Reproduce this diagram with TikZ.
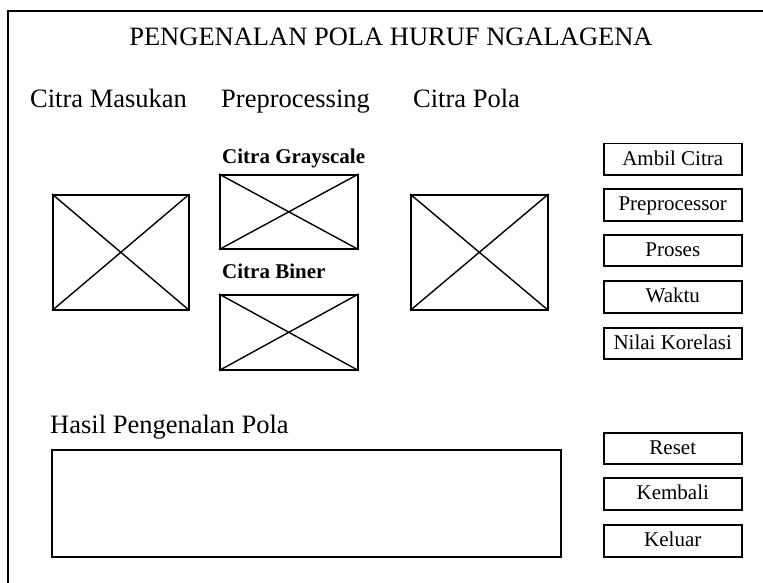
\documentclass[tikz,border=0pt]{standalone}
\usepackage{fontspec}
\setmainfont{Liberation Serif}
\begin{document}
\begin{tikzpicture}[x=1pt,y=-1pt,
  frame/.style={draw,line width=1.7pt},
  imgbox/.style={draw,line width=1.6pt,inner sep=0pt,anchor=north west},
  cross/.style={line width=1.4pt},
  btn/.style={draw,line width=1.5pt,inner sep=0pt,anchor=north west,minimum width=138pt,minimum height=31pt,text height=15pt,text depth=3pt,font=\fontsize{21}{23}\selectfont},
  lbl/.style={inner sep=0pt,anchor=base west,font=\fontsize{26.5}{28}\selectfont},
  sublbl/.style={inner sep=0pt,anchor=base west,font=\bfseries\fontsize{21}{23}\selectfont}]
\useasboundingbox (0,0) rectangle (763,583);
% outer frame (cut off at right and bottom)
\coordinate (fr1) at (763,11);
\coordinate (fr2) at (8,11);
\coordinate (fr3) at (8,583);
\draw[frame] (fr1) -- (fr2) -- (fr3);

% texts
\node[inner sep=0pt,anchor=base,font=\fontsize{26.5}{28}\selectfont] (title) at (391,46) {PENGENALAN POLA HURUF NGALAGENA};
\node[lbl] (tmasuk) at (30,108) {Citra Masukan};
\node[lbl] (tpre) at (221,108) {Preprocessing};
\node[lbl] (tpola) at (413,108) {Citra Pola};
\node[lbl] (thasil) at (50,433) {Hasil Pengenalan Pola};
\node[sublbl] (tgray) at (222,164) {Citra Grayscale};
\node[sublbl] (tbiner) at (222,278) {Citra Biner};

% image placeholders
\node[imgbox,minimum width=136pt,minimum height=115pt] (masuk) at (52,194) {};
\node[imgbox,minimum width=137pt,minimum height=115pt] (pola) at (410,194) {};
\node[imgbox,minimum width=138pt,minimum height=74pt] (gray) at (219,174) {};
\node[imgbox,minimum width=138pt,minimum height=75pt] (biner) at (219,294) {};
\foreach \b in {masuk,pola,gray,biner}{
  \draw[cross] (\b.north west) -- (\b.south east);
  \draw[cross] (\b.south west) -- (\b.north east);
}

% result area
\node[imgbox,minimum width=509pt,minimum height=107pt] (hasil) at (51,449) {};

% buttons
\node[btn] (ambil) at (603,143) {Ambil Citra};
\node[btn,minimum height=32pt] (preproc) at (603,188) {Preprocessor};
\node[btn] (proses) at (603,234) {Proses};
\node[btn,minimum height=32pt] (waktu) at (603,280) {Waktu};
\node[btn] (nilai) at (603,327) {Nilai Korelasi};
\node[btn] (reset) at (603,432) {Reset};
\node[btn,minimum height=32pt] (kembali) at (603,477) {Kembali};
\node[btn,minimum height=32pt] (keluar) at (603,524) {Keluar};
\end{tikzpicture}
\end{document}
